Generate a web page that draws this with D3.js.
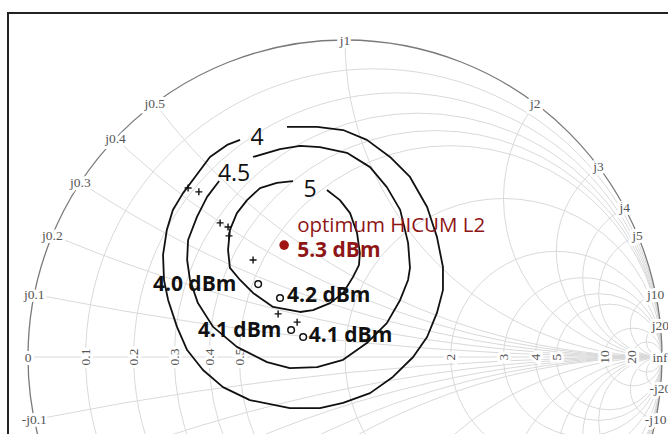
<!DOCTYPE html>
<html>
<head>
<meta charset="utf-8">
<script src="https://cdn.jsdelivr.net/npm/d3@7"></script>
<style>
  body { margin: 0; background: #fff; overflow: hidden; }
  svg { display: block; }
</style>
</head>
<body>
<svg id="smith"></svg>
<script>
// grid values of the smith chart
const resistanceGrid = [0.1, 0.2, 0.3, 0.4, 0.5, 1, 2, 3, 4, 5, 10, 20];
const reactanceGrid = [0.1, 0.2, 0.3, 0.4, 0.5, 1, 2, 3, 4, 5, 10, 20];
const realTickLabels = [0.1, 0.2, 0.3, 0.4, 0.5, 2, 3, 4, 5, 10, 20];
const imagTickLabels = [0.1, 0.2, 0.3, 0.4, 0.5, 1, 2, 3, 4, 5, 10, 20, -0.1, -10, -20];

// output power contours, reflection coefficient (re, im)
const contour4 = [
  [-0.183, 0.726], [-0.088, 0.726], [-0.006, 0.716], [0.069, 0.685], [0.142, 0.631],
  [0.205, 0.568], [0.259, 0.473], [0.290, 0.379], [0.309, 0.284], [0.309, 0.211],
  [0.290, 0.139], [0.259, 0.063], [0.215, 0.000], [0.151, -0.063], [0.079, -0.114],
  [-0.006, -0.145], [-0.079, -0.161], [-0.174, -0.161], [-0.300, -0.136], [-0.385, -0.095],
  [-0.448, -0.041], [-0.498, 0.022], [-0.530, 0.095], [-0.558, 0.180], [-0.571, 0.243],
  [-0.574, 0.322], [-0.562, 0.401], [-0.543, 0.464], [-0.511, 0.517], [-0.473, 0.568],
  [-0.426, 0.631], [-0.372, 0.669], [-0.331, 0.685]
];
const contour45 = [
  [-0.290, 0.631], [-0.205, 0.656], [-0.142, 0.666], [-0.079, 0.662], [0.006, 0.644],
  [0.079, 0.599], [0.132, 0.536], [0.174, 0.464], [0.199, 0.360], [0.205, 0.281],
  [0.199, 0.243], [0.174, 0.180], [0.132, 0.107], [0.069, 0.044], [-0.006, -0.009],
  [-0.088, -0.032], [-0.174, -0.035], [-0.246, -0.016], [-0.341, 0.032], [-0.416, 0.095],
  [-0.464, 0.170], [-0.489, 0.243], [-0.498, 0.306], [-0.495, 0.369], [-0.467, 0.442],
  [-0.435, 0.505], [-0.397, 0.555]
];
const contour5 = [
  [-0.057, 0.527], [-0.016, 0.495], [0.016, 0.454], [0.038, 0.391], [0.047, 0.328],
  [0.044, 0.290], [0.025, 0.252], [-0.006, 0.202], [-0.047, 0.170], [-0.101, 0.148],
  [-0.142, 0.142], [-0.227, 0.158], [-0.290, 0.202], [-0.331, 0.243], [-0.363, 0.281],
  [-0.369, 0.338], [-0.363, 0.401], [-0.341, 0.454], [-0.309, 0.495], [-0.268, 0.533],
  [-0.215, 0.549], [-0.164, 0.555]
];
const contourLabels = [
  { text: "4", at: [-0.277, 0.697] },
  { text: "4.5", at: [-0.350, 0.583] },
  { text: "5", at: [-0.110, 0.534] }
];

// measured points
const crossPoints = [
  [-0.495, 0.533], [-0.461, 0.521], [-0.394, 0.423], [-0.369, 0.410], [-0.366, 0.382],
  [-0.290, 0.306], [-0.211, 0.136], [-0.151, 0.110]
];
const circlePoints = [[-0.274, 0.230], [-0.205, 0.186], [-0.170, 0.085], [-0.132, 0.063]];
const optimumPoint = [-0.192, 0.353];

const annotations = [
  { text: "optimum HICUM L2", at: [-0.151, 0.393], bold: false, red: true },
  { text: "5.3 dBm", at: [-0.151, 0.315], bold: true, red: true },
  { text: "4.0 dBm", at: [-0.606, 0.208], bold: true, red: false },
  { text: "4.2 dBm", at: [-0.183, 0.174], bold: true, red: false },
  { text: "4.1 dBm", at: [-0.464, 0.063], bold: true, red: false },
  { text: "4.1 dBm", at: [-0.114, 0.047], bold: true, red: false }
];

let width = 668, height = 434,
  cx = 345, cy = 357, R = 317;

let svg = d3.select("#smith").attr("width", width).attr("height", height);

let xScale = d3.scaleLinear().domain([-1, 1]).range([cx - R, cx + R]),
  yScale = d3.scaleLinear().domain([-1, 1]).range([cy + R, cy - R]);
let len = (v) => xScale(v) - xScale(0);

svg.append("defs").append("clipPath").attr("id", "unit")
  .append("circle").attr("cx", xScale(0)).attr("cy", yScale(0)).attr("r", len(1));

let grid = svg.append("g").attr("clip-path", "url(#unit)")
  .attr("fill", "none").attr("stroke", "#d9d9d9").attr("stroke-width", 1);

// constant resistance circles
grid.selectAll(".rcircle").data(resistanceGrid).enter().append("circle")
  .attr("cx", (r) => xScale(r / (1 + r)))
  .attr("cy", yScale(0))
  .attr("r", (r) => len(1 / (1 + r)));

// constant reactance arcs, both signs
grid.selectAll(".xarc").data(reactanceGrid.flatMap((x) => [x, -x])).enter().append("circle")
  .attr("cx", xScale(1))
  .attr("cy", (x) => yScale(1 / x))
  .attr("r", (x) => len(1 / Math.abs(x)));

grid.append("line")
  .attr("x1", xScale(-1)).attr("x2", xScale(1))
  .attr("y1", yScale(0)).attr("y2", yScale(0));

svg.append("circle")
  .attr("cx", xScale(0)).attr("cy", yScale(0)).attr("r", len(1))
  .attr("fill", "none").attr("stroke", "#7a7a7a").attr("stroke-width", 1.3);

let labels = svg.append("g")
  .attr("font-family", "'Liberation Serif', 'DejaVu Serif', serif")
  .attr("font-size", "13.5px")
  .attr("fill", "#555")
  .attr("stroke", "#fff").attr("stroke-width", 6).attr("paint-order", "stroke")
  .attr("text-anchor", "middle").attr("dominant-baseline", "central");

labels.selectAll(".im").data(imagTickLabels).enter().append("text")
  .attr("x", (x) => xScale((x * x - 1) / (x * x + 1)))
  .attr("y", (x) => yScale((2 * x) / (x * x + 1)))
  .text((x) => (x < 0 ? "-j" + -x : "j" + x));

labels.selectAll(".re").data(realTickLabels).enter().append("text")
  .attr("transform", (r) => "translate(" + xScale((r - 1) / (r + 1)) + "," + yScale(0) + ") rotate(-90)")
  .text((r) => r);

labels.append("text").attr("x", xScale(-1)).attr("y", yScale(0)).text("0");
labels.append("text").attr("x", xScale(1) - 2).attr("y", yScale(0)).text("inf");

// contours
let line = d3.line().x((d) => xScale(d[0])).y((d) => yScale(d[1]));
svg.selectAll(".contour").data([contour4, contour45, contour5]).enter().append("path")
  .attr("d", line)
  .attr("fill", "none").attr("stroke", "#111").attr("stroke-width", 1.8)
  .attr("stroke-linejoin", "round");

svg.selectAll(".clabel").data(contourLabels).enter().append("text")
  .attr("x", (d) => xScale(d.at[0])).attr("y", (d) => yScale(d.at[1]))
  .attr("text-anchor", "middle").attr("dominant-baseline", "central")
  .attr("font-family", "'Open Sans', sans-serif").attr("font-size", "23px").attr("fill", "#111")
  .text((d) => d.text);

// markers
svg.selectAll(".cross").data(crossPoints).enter().append("path")
  .attr("d", (d) => {
    let x = xScale(d[0]), y = yScale(d[1]);
    return "M" + (x - 3.5) + "," + y + "H" + (x + 3.5) + "M" + x + "," + (y - 3.5) + "V" + (y + 3.5);
  })
  .attr("stroke", "#111").attr("stroke-width", 1.4);

svg.selectAll(".ring").data(circlePoints).enter().append("circle")
  .attr("cx", (d) => xScale(d[0])).attr("cy", (d) => yScale(d[1])).attr("r", 3.3)
  .attr("fill", "#fff").attr("stroke", "#111").attr("stroke-width", 1.5);

svg.append("circle")
  .attr("cx", xScale(optimumPoint[0])).attr("cy", yScale(optimumPoint[1])).attr("r", 4.8)
  .attr("fill", "#a01414");

svg.selectAll(".note").data(annotations).enter().append("text")
  .attr("x", (d) => xScale(d.at[0])).attr("y", (d) => yScale(d.at[1]))
  .attr("font-family", "'Open Sans', sans-serif")
  .attr("font-size", (d) => (d.bold ? "21px" : "20.5px"))
  .attr("font-weight", (d) => (d.bold ? "bold" : "normal"))
  .attr("fill", (d) => (d.red ? "#8e1616" : "#111"))
  .text((d) => d.text);

// frame of the figure
svg.append("rect")
  .attr("x", 8).attr("y", 13).attr("width", 700).attr("height", 500)
  .attr("fill", "none").attr("stroke", "#222").attr("stroke-width", 2);
</script>
</body>
</html>
